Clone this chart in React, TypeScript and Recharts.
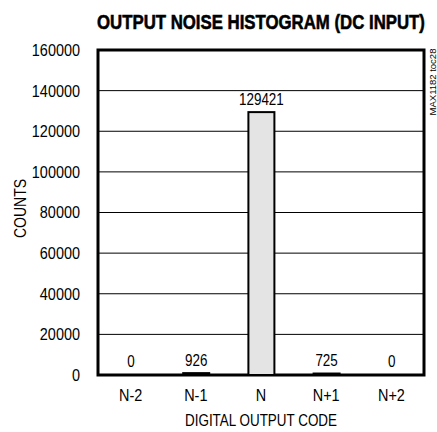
import {
  BarChart,
  Bar,
  XAxis,
  YAxis,
  CartesianGrid,
  LabelList,
  ReferenceArea,
} from 'recharts';

const codes = ['N-2', 'N-1', 'N', 'N+1', 'N+2'];
const counts = [0, 926, 129421, 725, 0];
const yTicks = [0, 20000, 40000, 60000, 80000, 100000, 120000, 140000, 160000];
const boundaryTicks = [0, 1, 2, 3, 4, 5];

const FONT = '"Liberation Sans", Arial, sans-serif';

// condensed text: Liberation Sans squeezed horizontally to look like Helvetica Condensed
function NarrowText({ x, y, children, size = 17, squeeze = 0.85, anchor = 'middle', rotate = 0 }: any) {
  return (
    <text
      x={0}
      y={0}
      transform={`translate(${x},${y}) rotate(${rotate}) scale(${squeeze},1)`}
      textAnchor={anchor}
      dominantBaseline="central"
      fontFamily={FONT}
      fontSize={size}
      fill="#000"
    >
      {children}
    </text>
  );
}

const YTick = ({ x, y, payload }: any) => (
  <NarrowText x={x} y={y} anchor="end">{payload.value}</NarrowText>
);

const XTick = ({ x, y, payload }: any) => (
  <NarrowText x={x} y={y + 20} size={17}>{payload.value}</NarrowText>
);

const ValueLabel = ({ x, y, width, value }: any) => (
  <NarrowText x={Number(x) + Number(width) / 2} y={Number(y) - 13} size={16} squeeze={0.84}>
    {String(value)}
  </NarrowText>
);

// empty bins keep a rectangle (so they get a label) but draw nothing
const BinShape = (props: any) => {
  const { x, y, width, height, payload } = props;
  if (!payload || payload.count === 0) return <g />;
  return <rect x={x} y={y} width={width} height={height} fill="#e4e4e4" stroke="#000" strokeWidth={2} />;
};

export default function App() {
  const data = codes.map((code, i) => ({ code, count: counts[i] }));

  return (
    <div style={{ position: 'absolute', left: 0, top: 0, width: 437, height: 432, background: '#fff' }}>
      <BarChart
        width={437}
        height={432}
        data={data}
        margin={{ top: 50, right: 13, bottom: 0, left: 8 }}
      >
        <text
          x={0}
          y={0}
          transform="translate(97,29) scale(0.8,1)"
          fontFamily={FONT}
          fontWeight="bold"
          fontSize={21}
          fill="#000"
          stroke="#000"
          strokeWidth={0.6}
        >
          OUTPUT NOISE HISTOGRAM (DC INPUT)
        </text>
        <CartesianGrid horizontal vertical={false} stroke="#000" strokeWidth={1} />
        <XAxis
          xAxisId="b"
          type="number"
          domain={[0, 5]}
          ticks={boundaryTicks}
          height={0}
          axisLine={false}
          tickLine={{ stroke: '#000', strokeWidth: 1 }}
          tickSize={6}
          tickFormatter={() => ''}
          allowDataOverflow
        />
        <XAxis
          dataKey="code"
          height={57}
          axisLine={false}
          tickLine={false}
          tickSize={0}
          tickMargin={0}
          tick={<XTick />}
          label={{
            content: ({ viewBox }: any) => (
              <NarrowText x={viewBox.x + viewBox.width / 2} y={viewBox.y + 46} size={16} squeeze={0.84}>
                DIGITAL OUTPUT CODE
              </NarrowText>
            ),
          }}
        />
        <YAxis
          domain={[0, 160000]}
          ticks={yTicks}
          width={90}
          axisLine={false}
          tickLine={false}
          tickSize={0}
          tickMargin={18}
          interval={0}
          tick={<YTick />}
          label={{
            content: ({ viewBox }: any) => (
              <NarrowText x={20} y={viewBox.y + viewBox.height / 2 - 4} size={16.5} squeeze={0.85} rotate={-90}>
                COUNTS
              </NarrowText>
            ),
          }}
        />
        <Bar
          dataKey="count"
          fill="#e4e4e4"
          stroke="#000"
          strokeWidth={2}
          barSize={26}
          minPointSize={0.5}
          shape={<BinShape />}
          isAnimationActive={false}
        >
          <LabelList dataKey="count" content={<ValueLabel />} />
        </Bar>
        <ReferenceArea y1={0} y2={160000} fill="none" stroke="#000" strokeWidth={3} ifOverflow="visible" />
        <text
          x={0}
          y={0}
          transform="translate(432,82) rotate(-90)"
          textAnchor="middle"
          dominantBaseline="central"
          fontFamily={FONT}
          fontSize={9.5}
          fill="#000"
        >
          MAX1182 toc28
        </text>
      </BarChart>
    </div>
  );
}
